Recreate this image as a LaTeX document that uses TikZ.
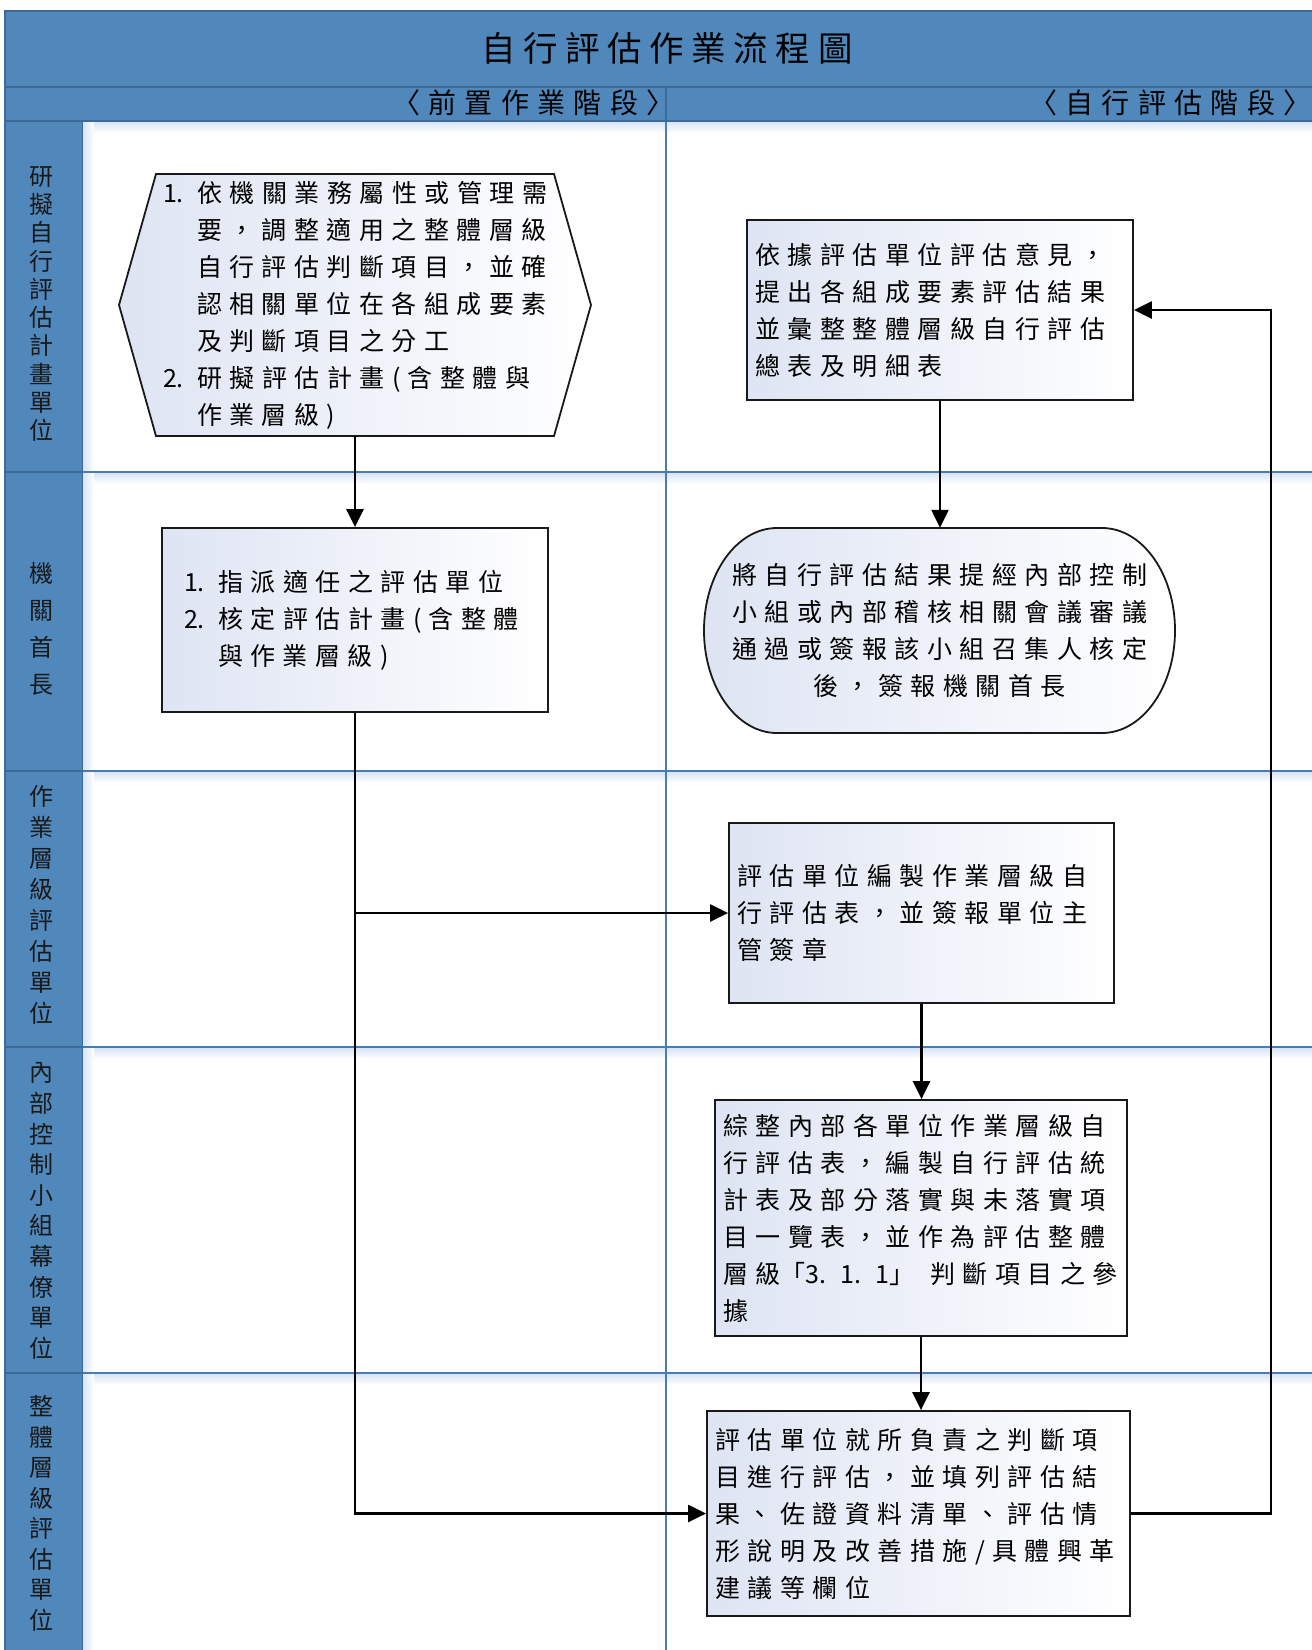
\documentclass[tikz,border=0pt]{standalone}
\usepackage{fontspec}
\newfontfamily\cjkbox[LetterSpace=30]{Noto Sans CJK TC}
\newfontfamily\cjktitle[LetterSpace=22]{Noto Sans CJK TC}
\newfontfamily\cjkphase[LetterSpace=30]{Noto Sans CJK TC}
\newfontfamily\cjklab{Noto Sans CJK TC}
\usetikzlibrary{arrows.meta}
\definecolor{band}{RGB}{80,136,188}
\definecolor{bandedge}{RGB}{62,106,152}
\definecolor{laneline}{RGB}{74,124,176}
\definecolor{shadowc}{RGB}{212,226,243}
\definecolor{boxleft}{RGB}{222,228,243}
\definecolor{boxline}{RGB}{25,25,25}
\newcommand\numi[1]{\makebox[34pt][l]{\cjklab #1}}
\newcommand\myind{\hspace*{34pt}}
\tikzset{
  boxfont/.style={font=\cjkbox\fontsize{25}{37}\selectfont},
  flowbox/.style={boxfont, draw=boxline, line width=1.8pt, left color=boxleft, right color=white,
    inner xsep=8pt, inner ysep=0pt, align=left},
  textonly/.style={boxfont, draw=none, inner ysep=0pt},
  shapeline/.style={draw=boxline, line width=1.8pt, left color=boxleft, right color=white},
  conn/.style={line width=2.4pt, -{Triangle[length=18pt,width=17pt]}},
  lanelab/.style={font=\cjklab\fontsize{24}{#1}\selectfont, align=center, inner sep=0pt, text=black!90},
  phasefont/.style={font=\cjkphase\fontsize{28}{32}\selectfont, inner sep=0pt, anchor=east},
}
\begin{document}
\begin{tikzpicture}[x=1pt,y=-1pt]
\useasboundingbox (0,0) rectangle (1312,1650);
\fill[white] (0,0) rectangle (1312,1650);
% shadows below lines
\foreach \yy in {121,472,771,1047,1373} {
  \shade[top color=shadowc, bottom color=white] (82,\yy) rectangle (1312,\yy+12);
}
\shade[left color=shadowc, right color=white] (82,121) rectangle (94,1650);
% content lines
\foreach \yy in {472,771,1047,1373} {
  \draw[laneline, line width=2pt] (82,\yy) -- (1312,\yy);
}
\draw[laneline, line width=1.6pt] (666,121) -- (666,1650);
% header bands
\fill[band] (5,11) rectangle (1312,121);
\fill[band] (5,121) rectangle (82,1650);
\draw[bandedge, line width=1.5pt] (1312,11) -- (5,11) -- (5,1650);
\draw[bandedge, line width=1.5pt] (5,87) -- (1312,87);
\draw[bandedge, line width=1.5pt] (5,121) -- (1312,121);
\draw[bandedge, line width=1.5pt] (666,87) -- (666,121);
\draw[bandedge, line width=1pt] (82,121) -- (82,1650);
\foreach \yy in {472,771,1047,1373} {
  \draw[bandedge, line width=2pt] (5,\yy) -- (82,\yy);
}
% titles
\node[font=\cjktitle\fontsize{34.5}{40}\selectfont, inner sep=0pt] (title) at (667,48) {自行評估作業流程圖};
\node[phasefont] (ph1) at (675,103) {〈前置作業階段〉};
\node[phasefont] (ph2) at (1312,103) {〈自行評估階段〉};
% lane labels
\node[lanelab=28.3] (lab1) at (41,304) {研\\擬\\自\\行\\評\\估\\計\\畫\\單\\位};
\node[lanelab=37] (lab2) at (41,629) {機\\關\\首\\長};
\node[lanelab=31] (lab3) at (41,904.5) {作\\業\\層\\級\\評\\估\\單\\位};
\node[lanelab=30.6] (lab4) at (41,1211) {內\\部\\控\\制\\小\\組\\幕\\僚\\單\\位};
\node[lanelab=30.5] (lab5) at (41,1513.5) {整\\體\\層\\級\\評\\估\\單\\位};
% hexagon
\path[shapeline] (156,174) -- (554,174) -- (591,305) -- (554,436) -- (156,436) -- (119,305) -- cycle;
\node[textonly, minimum width=472pt, minimum height=262pt, text width=384pt, inner xsep=44pt, align=left] (hex) at (355,305)
 {\numi{1.}依機關業務屬性或管理需\\
  \myind 要，調整適用之整體層級\\
  \myind 自行評估判斷項目，並確\\
  \myind 認相關單位在各組成要素\\
  \myind 及判斷項目之分工\\
  \numi{2.}研擬評估計畫(含整體與\\
  \myind 作業層級)};
% box A
\node[flowbox, minimum height=184pt, text width=342pt, inner xsep=22pt] (boxA) at (355,620)
 {\numi{1.}指派適任之評估單位\\
  \numi{2.}核定評估計畫(含整體\\
  \myind 與作業層級)};
% right box 1
\node[flowbox, minimum height=180pt, text width=370pt] (b1) at (940,310)
 {依據評估單位評估意見，\\提出各組成要素評估結果\\並彙整整體層級自行評估\\總表及明細表};
% terminal
\path[shapeline] (777,528) -- (1102,528)
  arc[start angle=-90, end angle=90, x radius=73, y radius=102.5]
  -- (777,733)
  arc[start angle=90, end angle=270, x radius=73, y radius=102.5] -- cycle;
\node[textonly, minimum width=471pt, minimum height=205pt, align=center] (term) at (939.5,630.5)
 {將自行評估結果提經內部控制\\小組或內部稽核相關會議審議\\通過或簽報該小組召集人核定\\後，簽報機關首長};
% lane 3
\node[flowbox, minimum height=180pt, text width=369pt] (l3) at (921.5,913)
 {評估單位編製作業層級自\\行評估表，並簽報單位主\\管簽章};
% lane 4
\node[flowbox, minimum height=236pt, text width=396pt] (l4) at (921,1218)
 {綜整內部各單位作業層級自\\行評估表，編製自行評估統\\計表及部分落實與未落實項\\目一覽表，並作為評估整體\\層級{\cjklab「3.\hspace{14pt}1.\hspace{14pt}1」}\hspace{16pt}判斷項目之參\\據};
% lane 5
\node[flowbox, minimum height=205pt, text width=407pt] (l5) at (918.5,1513.5)
 {評估單位就所負責之判斷項\\目進行評估，並填列評估結\\果、佐證資料清單、評估情\\形說明及改善措施/具體興革\\建議等欄位};
% connectors
\draw[conn] (hex.south) -- (boxA.north);
\draw[conn] (boxA.south) |- (l5.west);
\draw[conn] (boxA.south |- l3.west) -- (l3.west);
\draw[conn] (b1.south) -- (b1.south |- term.north);
\draw[conn] (l3.south) -- (l3.south |- l4.north);
\draw[conn] (l4.south) -- (l4.south |- l5.north);
\coordinate (loop) at (1271,1513.5);
\draw[conn] (l5.east) -- (loop) |- (b1.east);
\end{tikzpicture}
\end{document}
